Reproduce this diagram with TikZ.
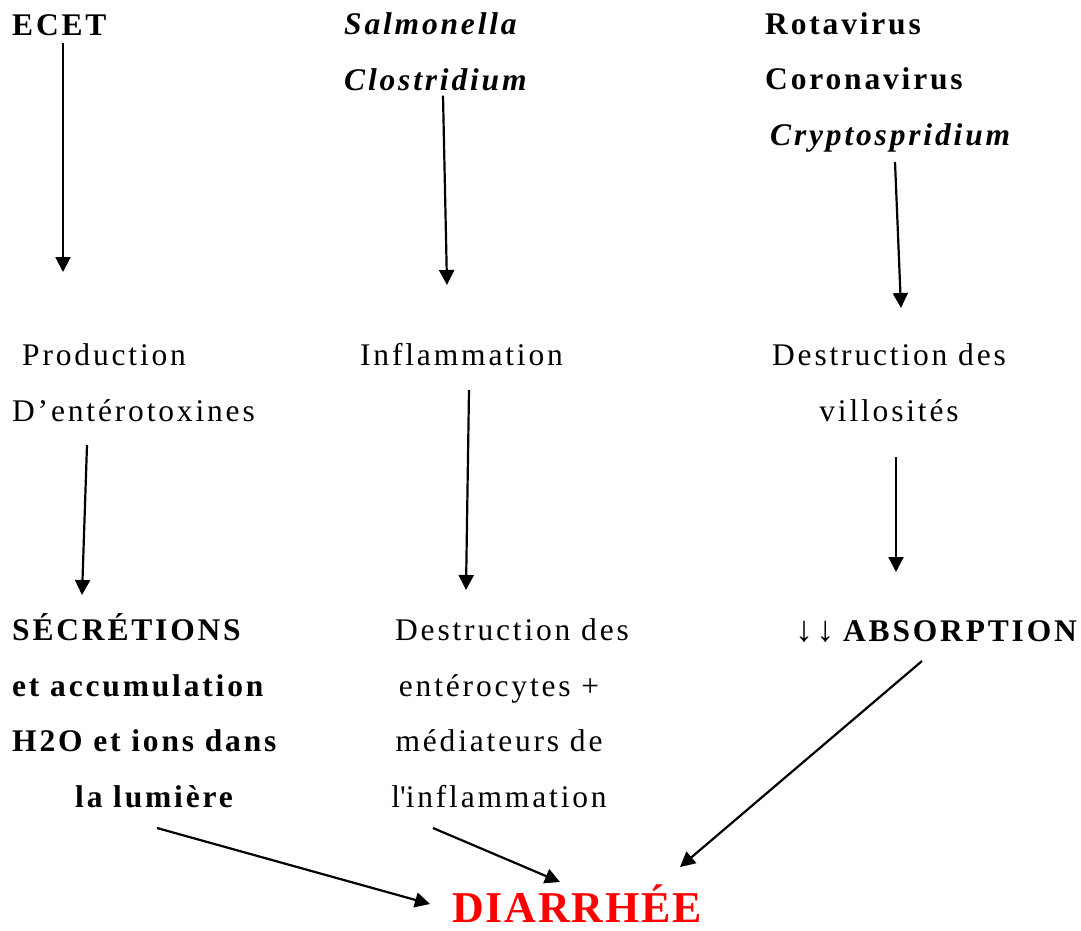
\documentclass[tikz,border=0pt]{standalone}
\usepackage{fontspec}
\setmainfont{Liberation Serif}[LetterSpace=9]
\usetikzlibrary{arrows.meta,calc}
\definecolor{DiarRed}{RGB}{255,0,0}

\begin{document}
\begin{tikzpicture}[
  x=1pt, y=-1pt,
  lbl/.style={inner sep=0pt, anchor=base west, align=left, font=\fontsize{31.5}{55.5}\selectfont},
  lblc/.style={lbl, anchor=base, align=center},
  germ/.style={lbl, font=\fontsize{31.5}{55.5}\selectfont\bfseries\itshape},
  strong/.style={lbl, font=\fontsize{31.5}{55.5}\selectfont\bfseries},
  arrow/.style={-{Triangle[width=15pt,length=15pt]}, line width=2.2pt}
]
  \useasboundingbox (0,0) rectangle (1081,930);

  % Agents (multi-line nodes sit on their last baseline)
  \node[strong] (ecet) at (12,35) {ECET};
  \node[germ] (salmo) at (344,90) {Salmonella\\Clostridium};
  \node[strong] (virus) at (765,145) {Rotavirus\\Coronavirus\\\hspace*{5pt}\textit{Cryptospridium}};

  % Mecanismes
  \node[lbl] (toxin) at (12,421) {\hspace*{10pt}Production\\D’entérotoxines};
  \node[lbl] (inflam) at (360,365) {Inflammation};
  \node[lblc] (villi) at (889,421) {Destruction des\\villosités};

  % Consequences
  \node[strong] (secr) at (12,807) {SÉCRÉTIONS\\et accumulation\\H2O et ions dans\\\hspace*{63pt}la lumière};
  \node[lblc] (entero) at (499,807) {\hspace*{26pt}Destruction des\\entérocytes +\\médiateurs de\\l\textquotesingle inflammation};
  \node[lbl] (absorb) at (795,641) {{\fontsize{36}{55.5}\selectfont ↓↓}\hspace*{-2pt} \textbf{ABSORPTION}};

  \node[inner sep=0pt, anchor=base, text=DiarRed, font=\fontsize{44}{50}\selectfont\bfseries\addfontfeature{LetterSpace=4}] (diarrh) at (577,922) {DIARRHÉE};

  % Ends of the arrows
  \coordinate (ecet-in) at (63,272);
  \coordinate (salmo-in) at (447,285);
  \coordinate (virus-in) at (901,308);
  \coordinate (toxin-out) at (87,445);
  \coordinate (toxin-in) at (82,595);
  \coordinate (inflam-out) at (469,390);
  \coordinate (inflam-in) at (466,590);
  \coordinate (villi-out) at (896,457);
  \coordinate (villi-in) at (896,572);
  \coordinate (secr-out) at (157,828);
  \coordinate (entero-out) at (433,828);
  \coordinate (absorb-out) at (922,661);

  % Arrows
  \draw[arrow] (ecet.south -| ecet-in) ++(0,7) -- (ecet-in);
  \draw[arrow] (salmo.south -| 443,0) ++(0,5) -- (salmo-in);
  \draw[arrow] (virus.south -| 895,0) ++(0,10) -- (virus-in);
  \draw[arrow] (toxin-out) -- (toxin-in);
  \draw[arrow] (inflam-out) -- (inflam-in);
  \draw[arrow] (villi-out) -- (villi-in);
  \draw[arrow] (secr-out) -- (430,904);
  \draw[arrow] (entero-out) -- (560,882);
  \draw[arrow] (absorb-out) -- (680,867);
\end{tikzpicture}
\end{document}
